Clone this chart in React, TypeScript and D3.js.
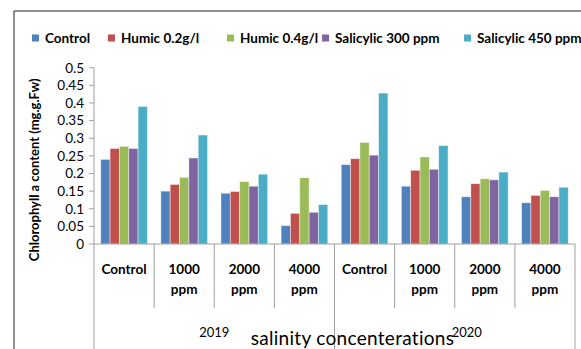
import * as d3 from 'd3';

const W = 581;
const H = 349;

const years = ['2019', '2020'];
const levels = ['Control', '1000 ppm', '2000 ppm', '4000 ppm'];
const seriesNames = ['Control', 'Humic 0.2g/l', 'Humic 0.4g/l', 'Salicylic 300 ppm', 'Salicylic 450 ppm'];
const colors = ['#4F81BD', '#C0504D', '#9BBB59', '#8064A2', '#4BACC6'];

// values per series, 2019 (Control,1000,2000,4000) then 2020
const controlVals = [0.24, 0.15, 0.144, 0.052, 0.225, 0.164, 0.134, 0.117];
const humic02Vals = [0.271, 0.169, 0.149, 0.087, 0.242, 0.209, 0.171, 0.138];
const humic04Vals = [0.277, 0.189, 0.177, 0.188, 0.288, 0.247, 0.185, 0.152];
const sal300Vals = [0.271, 0.244, 0.164, 0.09, 0.252, 0.212, 0.182, 0.134];
const sal450Vals = [0.39, 0.309, 0.198, 0.112, 0.428, 0.279, 0.204, 0.161];
const allVals = [controlVals, humic02Vals, humic04Vals, sal300Vals, sal450Vals];

const yTicks = d3.ticks(0, 0.5, 10);

const FONT = 'Lato, "Open Sans", sans-serif';
const AXIS = '#a0a0a0';

// plot bounds
const PLOT = { left: 94, right: 575, top: 67.7, bottom: 244 };
const legendX = [32, 108, 227, 322, 464];

export default function App() {
  const cats = years.flatMap(y => levels.map(l => `${y}|${l}`));

  const x = d3.scaleBand().domain(cats).range([PLOT.left, PLOT.right]).padding(0);
  const xGroup = d3.scaleBand().domain(years).range([PLOT.left, PLOT.right]).padding(0);
  const xInner = d3
    .scaleBand()
    .domain(seriesNames)
    .range([0, x.bandwidth()])
    .paddingInner(0)
    .paddingOuter(0.72);
  const y = d3.scaleLinear().domain([0, 0.5]).range([PLOT.bottom, PLOT.top]);
  const fmt = d3.format('~g');

  const bars = cats.flatMap((c, ci) =>
    seriesNames.map((s, si) => {
      const v = allVals[si][ci];
      return (
        <rect
          key={c + s}
          x={(x(c) ?? 0) + (xInner(s) ?? 0)}
          y={y(v)}
          width={xInner.bandwidth()}
          height={y(0) - y(v)}
          fill={colors[si]}
          stroke="#ffffff"
          strokeOpacity={0.55}
          strokeWidth={0.8}
        />
      );
    })
  );

  return (
    <svg
      width={W}
      height={H}
      style={{ position: 'absolute', left: 0, top: 0, background: '#fff' }}
      fontFamily={FONT}
    >
      {/* chart frame */}
      <path d={`M14,${H} V11 H${W}`} fill="none" stroke="#222" strokeWidth={1} />

      {/* legend */}
      {seriesNames.map((s, i) => (
        <g key={s}>
          <rect x={legendX[i]} y={34.5} width={7} height={7} fill={colors[i]} />
          <text x={legendX[i] + 13} y={42.5} fontSize={13.5} fontWeight="bold" fill="#000">
            {s}
          </text>
        </g>
      ))}

      {/* y axis */}
      <line x1={PLOT.left} x2={PLOT.left} y1={y(0.5)} y2={H} stroke={AXIS} />
      {yTicks.map(t => (
        <g key={t}>
          <line x1={PLOT.left - 5} x2={PLOT.left} y1={y(t)} y2={y(t)} stroke={AXIS} />
          <text
            x={PLOT.left - 10}
            y={y(t)}
            dy="0.36em"
            textAnchor="end"
            fontSize={13.5}
            fill="#000"
          >
            {fmt(t)}
          </text>
        </g>
      ))}
      <text
        transform={`translate(34,${(PLOT.top + 272) / 2}) rotate(-90)`}
        textAnchor="middle"
        dy="0.35em"
        fontSize={13}
        fontWeight="bold"
        fill="#000"
      >
        Chlorophyll a content (mg.g.Fw)
      </text>

      {bars}

      {/* x axis */}
      <line x1={PLOT.left} x2={PLOT.right} y1={PLOT.bottom} y2={PLOT.bottom} stroke={AXIS} strokeWidth={1.2} />
      {cats.map((c, i) => {
        const isGroupStart = i % levels.length === 0;
        const x0 = x(c) ?? 0;
        return isGroupStart ? null : (
          <line key={c} x1={x0} x2={x0} y1={PLOT.bottom} y2={308} stroke={AXIS} />
        );
      })}
      {years.map(yr => {
        const gx = (xGroup(yr) ?? 0) + xGroup.bandwidth();
        return <line key={yr} x1={gx} x2={gx} y1={PLOT.bottom} y2={H} stroke={AXIS} />;
      })}
      {cats.map(c => {
        const label = c.split('|')[1];
        const lines = label.split(' ');
        const cx = (x(c) ?? 0) + x.bandwidth() / 2;
        return (
          <text key={c} textAnchor="middle" fontSize={13.5} fontWeight="bold" fill="#000">
            {lines.map((ln, li) => (
              <tspan key={li} x={cx} y={274 + li * 20}>
                {ln}
              </tspan>
            ))}
          </text>
        );
      })}
      {years.map((yr, i) => (
        <text
          key={yr}
          x={(xGroup(yr) ?? 0) + xGroup.bandwidth() / 2 + i * 12}
          y={337}
          textAnchor="middle"
          fontSize={13}
          fill="#000"
        >
          {yr}
        </text>
      ))}
      <text x={352.5} y={345} textAnchor="middle" fontSize={19} letterSpacing={0.3} fill="#000">
        salinity concenterations
      </text>
    </svg>
  );
}
